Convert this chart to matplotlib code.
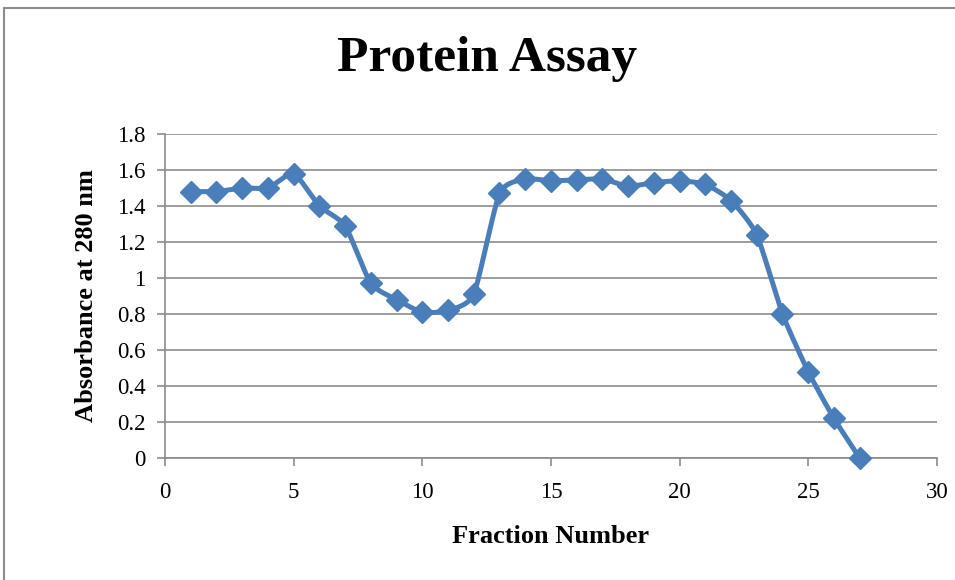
import numpy as np
import matplotlib.pyplot as plt
from matplotlib.patches import Rectangle

# fraction number vs absorbance
fraction = [1, 2, 3, 4, 5, 6, 7, 8, 9, 10, 11, 12, 13, 14,
            15, 16, 17, 18, 19, 20, 21, 22, 23, 24, 25, 26, 27]
absorb = [1.48, 1.48, 1.50, 1.50, 1.58, 1.40, 1.29, 0.97, 0.88, 0.81, 0.82, 0.91, 1.47, 1.55,
          1.54, 1.545, 1.55, 1.51, 1.53, 1.54, 1.52, 1.43, 1.24, 0.80, 0.48, 0.22, 0.0]

xticks = [0, 5, 10, 15, 20, 25, 30]
yticks = [0, 0.2, 0.4, 0.6, 0.8, 1, 1.2, 1.4, 1.6, 1.8]
ytick_labels = ['0', '0.2', '0.4', '0.6', '0.8', '1', '1.2', '1.4', '1.6', '1.8']

blue = '#4A7EBB'
grey = '#8c8c8c'

plt.rcParams['font.family'] = ['Liberation Serif', 'DejaVu Serif']


def smooth(x, y, n=20, t=0.5):
    # catmull-rom style curve through the points, like excel's smoothed line
    x = np.asarray(x, float)
    y = np.asarray(y, float)
    px = np.concatenate([[x[0]], x, [x[-1]]])
    py = np.concatenate([[y[0]], y, [y[-1]]])
    xs, ys = [], []
    for i in range(1, len(px) - 2):
        p0, p1, p2, p3 = (px[i-1], py[i-1]), (px[i], py[i]), (px[i+1], py[i+1]), (px[i+2], py[i+2])
        m1 = ((p2[0]-p0[0])*t/2, (p2[1]-p0[1])*t/2)
        m2 = ((p3[0]-p1[0])*t/2, (p3[1]-p1[1])*t/2)
        s = np.linspace(0, 1, n)
        h00 = 2*s**3 - 3*s**2 + 1
        h10 = s**3 - 2*s**2 + s
        h01 = -2*s**3 + 3*s**2
        h11 = s**3 - s**2
        xs.extend(h00*p1[0] + h10*m1[0] + h01*p2[0] + h11*m2[0])
        ys.extend(h00*p1[1] + h10*m1[1] + h01*p2[1] + h11*m2[1])
    return np.array(xs), np.array(ys)


fig = plt.figure(figsize=(9.55, 5.8), dpi=100)
ax = fig.add_axes([0.1728, 0.2103, 0.981 - 0.1728, 0.769 - 0.2103])

sx, sy = smooth(fraction, absorb, t=0.6)
ax.plot(sx, sy, color=blue, lw=3.6, zorder=3, clip_on=False)
ax.plot(fraction, absorb, 'D', color=blue, markersize=11, zorder=4, clip_on=False)

ax.set_xlim(0, 30)
ax.set_ylim(0, 1.8)
ax.set_xticks(xticks)
ax.set_yticks(yticks)
ax.set_yticklabels(ytick_labels)
ax.tick_params(labelsize=16.5, color=grey, length=6, width=1.2)
ax.tick_params(axis='y', pad=8)
ax.tick_params(axis='x', pad=11)
ax.grid(axis='y', color=grey, lw=1.2)
ax.set_axisbelow(True)
for s in ['top', 'right']:
    ax.spines[s].set_visible(False)
for s in ['left', 'bottom']:
    ax.spines[s].set_color(grey)
    ax.spines[s].set_linewidth(1.2)

ax.set_xlabel('Fraction Number', fontsize=19, fontweight='bold', labelpad=16)
ax.set_ylabel('Absorbance at 280 nm', fontsize=19, fontweight='bold', labelpad=14)
fig.text(0.51, 0.898, 'Protein Assay', ha='center', va='center', fontsize=37, fontweight='bold')

# chart border
fig.add_artist(Rectangle((4/955, -0.05), 1.1, 1 - 8/580 + 0.05, transform=fig.transFigure,
                         fill=False, edgecolor=grey, lw=1.5))

fig.savefig('out.png', dpi=100)
